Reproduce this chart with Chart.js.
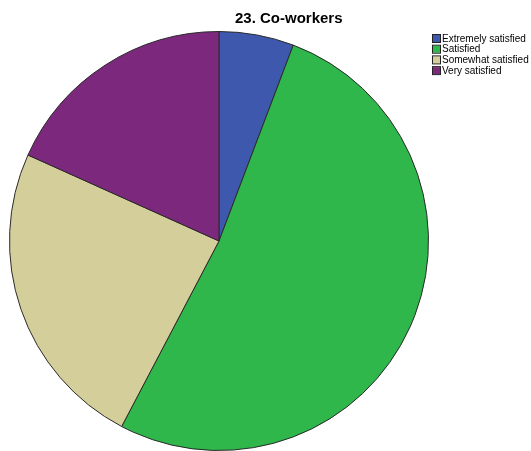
<!DOCTYPE html>
<html>
<head>
<meta charset="utf-8">
<script src="https://cdn.jsdelivr.net/npm/chart.js@4"></script>
<style>
  html, body { margin: 0; padding: 0; background: #fff; }
  #wrap { width: 531px; height: 451px; position: relative; }
</style>
</head>
<body>
<div id="wrap"><canvas id="pieChart" width="531" height="451"></canvas></div>
<script>
// data (counts, start at 12 o'clock, clockwise)
const categories = ["Extremely satisfied", "Satisfied", "Somewhat satisfied", "Very satisfied"];
const counts = [6, 54, 25, 19];
const sliceColors = ["#3e58ae", "#2fb74b", "#d4cf9a", "#7b287d"];
const chartTitle = "23. Co-workers";

// title + legend drawn by hand so they sit where SPSS puts them
const sideLegend = {
  id: "sideLegend",
  afterDraw(chart) {
    const ctx = chart.ctx;
    ctx.save();
    ctx.fillStyle = "#000";
    ctx.font = "bold 15px 'Liberation Sans', Arial, sans-serif";
    ctx.textAlign = "left";
    ctx.textBaseline = "middle";
    ctx.fillText(chartTitle, 235, 18.5);

    ctx.font = "10px 'Liberation Sans', Arial, sans-serif";
    categories.forEach((label, i) => {
      const y = 38.5 + i * 10.7;
      ctx.fillStyle = sliceColors[i];
      ctx.fillRect(433, y - 3.5, 7, 7);
      ctx.strokeStyle = "#222";
      ctx.lineWidth = 1;
      ctx.strokeRect(432.5, y - 4, 8, 8);
      ctx.fillStyle = "#000";
      ctx.fillText(label, 442, y + 0.5);
    });
    ctx.restore();
  }
};

new Chart(document.getElementById("pieChart").getContext("2d"), {
  type: "pie",
  data: {
    labels: categories,
    datasets: [{
      data: counts,
      backgroundColor: sliceColors,
      borderColor: "#2a2a2a",
      borderWidth: 1,
      hoverOffset: 0
    }]
  },
  options: {
    responsive: false,
    animation: false,
    layout: { padding: { top: 31, left: 9, right: 102, bottom: 0 } },
    plugins: {
      legend: { display: false },
      title: { display: false },
      tooltip: { enabled: false }
    }
  },
  plugins: [sideLegend]
});
</script>
</body>
</html>
